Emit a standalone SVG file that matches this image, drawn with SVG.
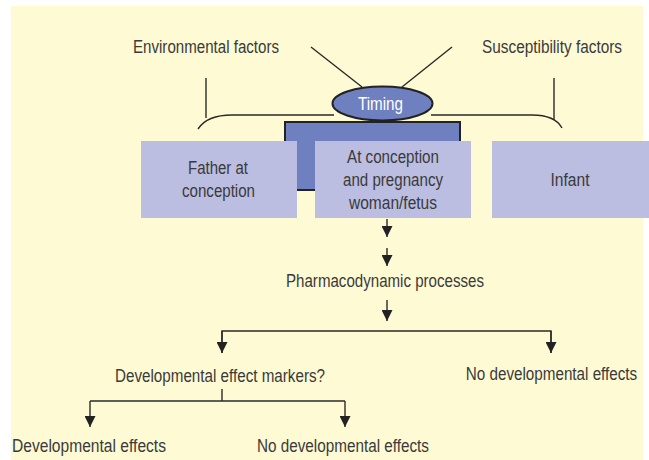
<svg xmlns="http://www.w3.org/2000/svg" width="649" height="460" viewBox="0 0 649 460">
<defs>
<style>
text{font-family:"Liberation Sans",Arial,sans-serif;font-size:17.5px;fill:#3a3a3a;text-anchor:middle}
.ln{fill:none;stroke:#2a2a2a;stroke-width:1.4}
.arr{fill:none;stroke:#2a2a2a;stroke-width:1.4;marker-end:url(#ah)}
.box{fill:#bbbde1}
</style>
<marker id="ah" viewBox="0 0 10 10" refX="10" refY="5" markerWidth="11" markerHeight="11" markerUnits="userSpaceOnUse" orient="auto">
<path d="M0,0 L10,5 L0,10 Z" fill="#222"/>
</marker>
</defs>
<rect x="11" y="6" width="632" height="454" fill="#fefad4"/>
<g id="connectors">
<path class="ln" d="M311,47 L362,87"/>
<path class="ln" d="M452,47 L402,87"/>
<path class="ln" d="M206,78 V118"/>
<path class="ln" d="M198,129 Q207,115 232,115 H334"/>
<path class="ln" d="M554,78 V120"/>
<path class="ln" d="M562,128 Q555,115 532,115 H431"/>
<path class="arr" d="M387,219 V237"/>
<path class="arr" d="M387,248 V266"/>
<path class="arr" d="M387,300 V321"/>
<path class="ln" d="M222,353 V331 H551 V353"/>
<path class="arr" d="M222,331 V353"/>
<path class="arr" d="M551,331 V353"/>
<path class="ln" d="M222,389 V401"/>
<path class="ln" d="M90,401 H345"/>
<path class="arr" d="M90,401 V427"/>
<path class="arr" d="M345,401 V427"/>
</g>
<g id="environmental"><text x="206" y="53" textLength="146" lengthAdjust="spacingAndGlyphs">Environmental factors</text></g>
<g id="susceptibility"><text x="552" y="53" textLength="140" lengthAdjust="spacingAndGlyphs">Susceptibility factors</text></g>
<g id="pregnancy-block"><rect x="285" y="122" width="175" height="68" fill="#6e80c0" stroke="#222" stroke-width="2"/></g>
<g id="timing"><ellipse cx="382.5" cy="103.5" rx="50" ry="17" fill="#6e80c0" stroke="#222" stroke-width="2"/><text x="380.5" y="110" style="fill:#fff" textLength="45" lengthAdjust="spacingAndGlyphs">Timing</text></g>
<g id="father"><rect class="box" x="141" y="141" width="156" height="77"/><text x="218" y="174" textLength="60" lengthAdjust="spacingAndGlyphs">Father at</text><text x="218.5" y="197" textLength="73" lengthAdjust="spacingAndGlyphs">conception</text></g>
<g id="woman"><rect class="box" x="315" y="141" width="156" height="77"/><text x="393" y="163" textLength="92" lengthAdjust="spacingAndGlyphs">At conception</text><text x="393" y="186" textLength="100" lengthAdjust="spacingAndGlyphs">and pregnancy</text><text x="393" y="209" textLength="88" lengthAdjust="spacingAndGlyphs">woman/fetus</text></g>
<g id="infant"><rect class="box" x="492" y="141" width="157" height="77"/><text x="570" y="186" textLength="39" lengthAdjust="spacingAndGlyphs">Infant</text></g>
<g id="pharmacodynamic"><text x="385" y="287" textLength="198" lengthAdjust="spacingAndGlyphs">Pharmacodynamic processes</text></g>
<g id="markers"><text x="220" y="382" textLength="210" lengthAdjust="spacingAndGlyphs">Developmental effect markers?</text></g>
<g id="no-effects-right"><text transform="translate(551.5,380) scale(0.87,1)" x="0" y="0">No developmental effects</text></g>
<g id="effects"><text x="89" y="452" textLength="154" lengthAdjust="spacingAndGlyphs">Developmental effects</text></g>
<g id="no-effects-bottom"><text x="343" y="452" textLength="172" lengthAdjust="spacingAndGlyphs">No developmental effects</text></g>
</svg>
